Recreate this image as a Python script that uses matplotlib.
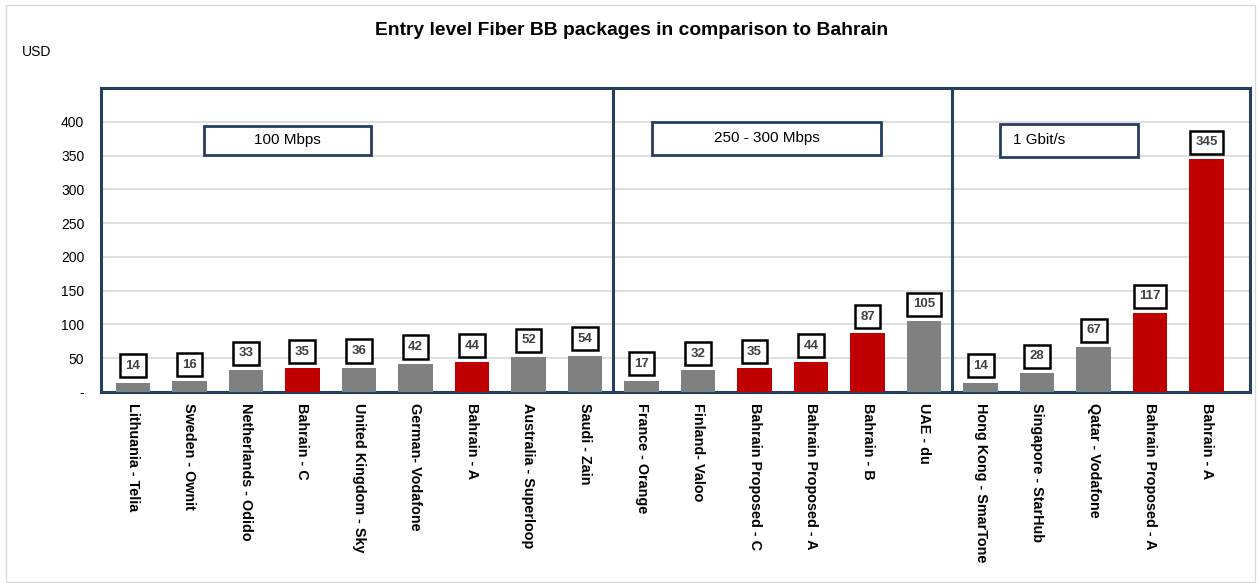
import matplotlib.pyplot as plt
from matplotlib.patches import Rectangle

plt.rcParams['font.family'] = ['Liberation Sans', 'DejaVu Sans']

packages = ['Lithuania - Telia', 'Sweden - Ownit', 'Netherlands - Odido', 'Bahrain - C',
            'United Kingdom - Sky', 'German- Vodafone', 'Bahrain - A', 'Australia - Superloop',
            'Saudi - Zain',
            'France - Orange', 'Finland- Valoo', 'Bahrain Proposed - C', 'Bahrain Proposed - A',
            'Bahrain - B', 'UAE - du',
            'Hong Kong - SmarTone', 'Singapore - StarHub', 'Qatar - Vodafone',
            'Bahrain Proposed - A', 'Bahrain - A']
prices = [14, 16, 33, 35, 36, 42, 44, 52, 54,
          17, 32, 35, 44, 87, 105,
          14, 28, 67, 117, 345]
is_bahrain = [False, False, False, True, False, False, True, False, False,
              False, False, True, True, True, False,
              False, False, False, True, True]
speed_groups = ['100 Mbps', '250 - 300 Mbps', '1 Gbit/s']

GREY = '#808080'
RED = '#C00000'
NAVY = '#243F60'

fig = plt.figure(figsize=(12.59, 5.83), dpi=100)
ax = fig.add_axes([0.0802, 0.3276, 0.9127, 0.5214])

x = list(range(len(prices)))
colors = [RED if b else GREY for b in is_bahrain]
ax.bar(x, prices, width=0.61, color=colors, zorder=3)

for xi, v in zip(x, prices):
    ax.annotate(str(v), (xi, v), xytext=(0, 12), textcoords='offset points',
                ha='center', va='center', fontsize=9.5, fontweight='bold', color='#404040',
                bbox=dict(boxstyle='square,pad=0.42', fc='white', ec='black', lw=1.8),
                zorder=5)

ax.set_xlim(-0.566, 19.77)
ax.set_ylim(0, 450)
ax.set_yticks(range(0, 401, 50))
ax.set_yticklabels(['-'] + [str(t) for t in range(50, 401, 50)], fontsize=10)
ax.yaxis.grid(True, color='#D9D9D9', lw=1.2, zorder=0)
ax.tick_params(axis='y', length=0, pad=12)
ax.tick_params(axis='x', length=0, pad=8)
ax.set_xticks(x)
ax.set_xticklabels(packages, rotation=270, fontsize=10.4, fontweight='bold', va='top', ha='center')

for s in ax.spines.values():
    s.set_color(NAVY)
    s.set_linewidth(2.2)

for xd in (8.5, 14.5):
    ax.axvline(xd, color=NAVY, lw=2.2, zorder=4)

# speed group boxes
boxes = [(1.257, 351, 2.95, 43, 'center'), (9.19, 351, 4.05, 49, 'center'), (15.35, 348, 2.44, 49, 'left')]
for (bx, by, bw, bh, al), lab in zip(boxes, speed_groups):
    ax.add_patch(Rectangle((bx, by), bw, bh, fc='white', ec=NAVY, lw=2, zorder=4))
    tx = bx + bw / 2 if al == 'center' else bx + 0.23
    ax.text(tx, by + bh / 2, lab, ha=al, va='center', fontsize=11, zorder=6)

fig.text(0.502, 0.947, 'Entry level Fiber BB packages in comparison to Bahrain',
         ha='center', va='center', fontsize=13.9, fontweight='bold')
fig.text(0.017, 0.911, 'USD', ha='left', va='center', fontsize=10)

fig.patches.append(Rectangle((0.005, 0.002), 0.992, 0.99, transform=fig.transFigure,
                             fill=False, ec='#D9D9D9', lw=1))

fig.savefig('out.png', dpi=100)
